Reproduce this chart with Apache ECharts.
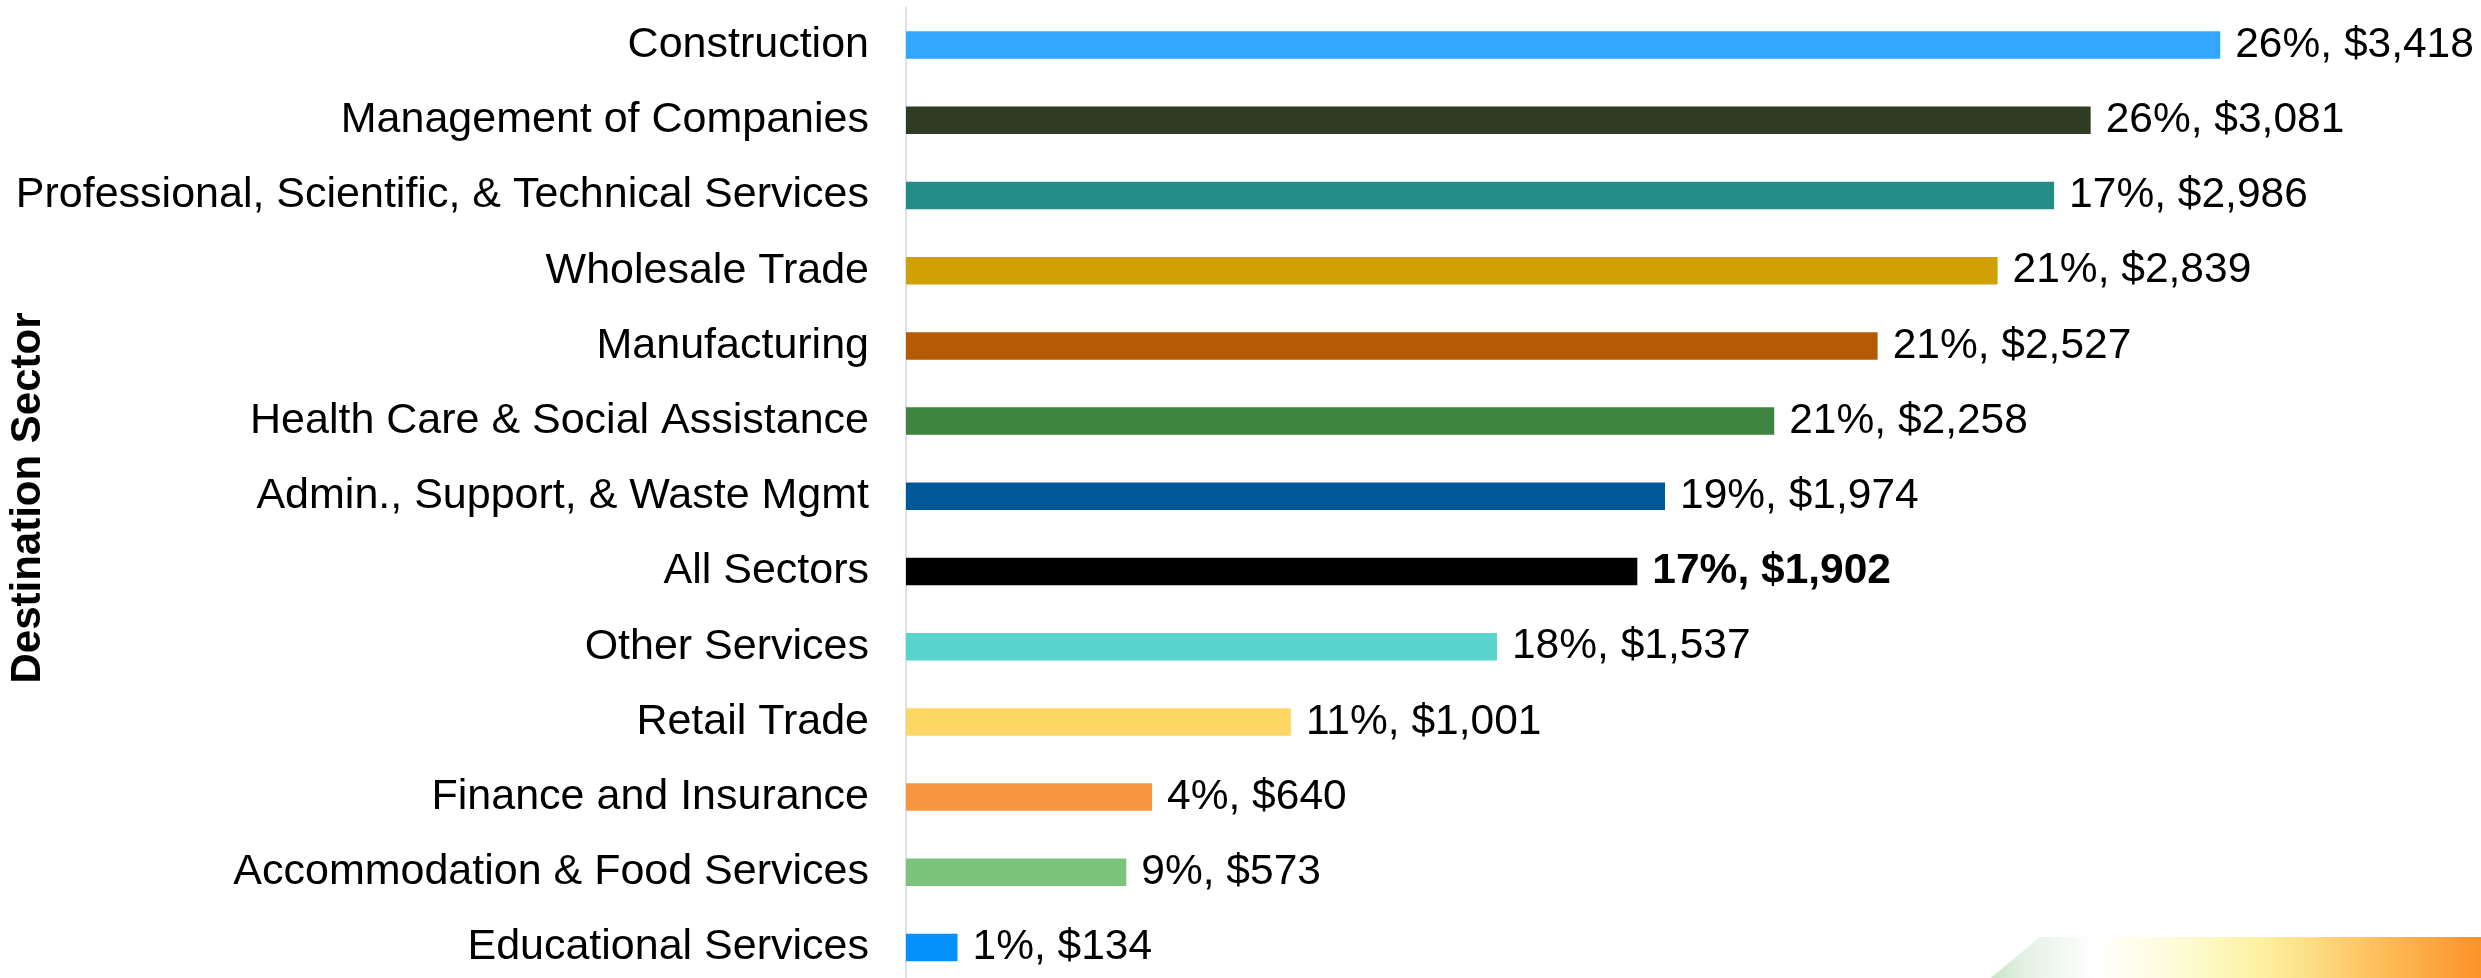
<!DOCTYPE html>
<html>
<head>
<meta charset="utf-8">
<title>Destination Sector</title>
<script src="https://cdn.jsdelivr.net/npm/echarts@6/dist/echarts.min.js"></script>
<style>
  html, body { margin: 0; padding: 0; background: #fff; overflow: hidden; }
  #chart { width: 2481px; height: 992px; }
</style>
</head>
<body>
<div id="chart"></div>
<script>
// sectors, top to bottom
var categories = [
  'Construction',
  'Management of Companies',
  'Professional, Scientific, & Technical Services',
  'Wholesale Trade',
  'Manufacturing',
  'Health Care & Social Assistance',
  'Admin., Support, & Waste Mgmt',
  'All Sectors',
  'Other Services',
  'Retail Trade',
  'Finance and Insurance',
  'Accommodation & Food Services',
  'Educational Services'
]
var amounts = [3418, 3081, 2986, 2839, 2527, 2258, 1974, 1902, 1537, 1001, 640, 573, 134]
var shares = [26, 26, 17, 21, 21, 21, 19, 17, 18, 11, 4, 9, 1]

var barColors = [
  '#33a7fe', '#2f3b23', '#248d87', '#d1a005', '#b55a07', '#3e833f', '#005899',
  '#000000', '#58d4cd', '#fcd763', '#f7963e', '#7cc37b', '#0590fc'
]
var boldRow = 'All Sectors'

var chart = echarts.init(document.getElementById('chart'))

var seriesData = amounts.map(function (v, i) {
  var item = { value: v, itemStyle: { color: barColors[i] } }
  if (categories[i] === boldRow) {
    item.label = { fontWeight: 'bold' }
  }
  return item
})

chart.setOption({
  animation: false,
  textStyle: { fontFamily: 'Liberation Sans, Arial, sans-serif' },
  grid: {
    left: 906,
    top: 7.5,
    height: 977.6,
    right: 37
  },
  xAxis: {
    type: 'value',
    min: 0,
    max: 4000,
    show: false
  },
  yAxis: {
    type: 'category',
    inverse: true,
    data: categories,
    axisLine: { show: true, lineStyle: { color: '#dbe1ee', width: 2 } },
    axisTick: { show: false },
    axisLabel: {
      margin: 37,
      color: '#000',
      fontSize: 43,
      padding: [6, 0, 0, 0],
      fontFamily: 'Liberation Sans, Arial, sans-serif'
    }
  },
  series: [{
    type: 'bar',
    data: seriesData,
    barWidth: 27.5,
    label: {
      show: true,
      position: 'right',
      distance: 15,
      color: '#000',
      fontSize: 42.5,
      padding: [6, 0, 0, 0],
      fontFamily: 'Liberation Sans, Arial, sans-serif',
      formatter: function (p) {
        return shares[p.dataIndex] + '%, $' + p.value.toLocaleString('en-US')
      }
    }
  }],
  graphic: [
    {
      type: 'text',
      rotation: Math.PI / 2,
      x: 28,
      y: 498,
      style: {
        text: 'Destination Sector',
        font: 'bold 42px "Liberation Sans", Arial, sans-serif',
        fill: '#000',
        textAlign: 'center',
        textVerticalAlign: 'middle'
      }
    },
    {
      type: 'polygon',
      silent: true,
      shape: {
        points: [[2040, 937], [2481, 937], [2481, 992], [1974, 992]]
      },
      style: {
        fill: {
          type: 'linear', x: 0, y: 0, x2: 1, y2: 0,
          colorStops: [
            { offset: 0, color: '#b9dcb9' },
            { offset: 0.1, color: '#e4f1e4' },
            { offset: 0.24, color: '#ffffff' },
            { offset: 0.42, color: '#fdfbd2' },
            { offset: 0.57, color: '#fdf0a0' },
            { offset: 0.65, color: '#fde08a' },
            { offset: 0.8, color: '#fdbf5a' },
            { offset: 1, color: '#fb9228' }
          ]
        }
      }
    }
  ]
})
</script>
</body>
</html>
